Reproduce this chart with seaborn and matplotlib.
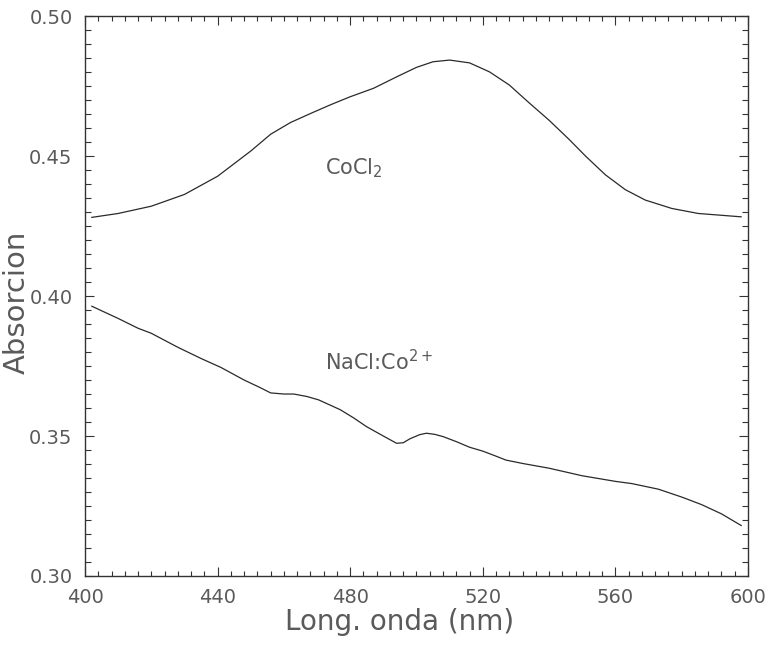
import numpy as np
import pandas as pd
import matplotlib
matplotlib.use("Agg")
import matplotlib.pyplot as plt
import seaborn as sns
from matplotlib.ticker import MultipleLocator

# ---- data ----
cocl2_wl = [402, 410, 420, 430, 440, 450, 456, 462, 468, 474, 480, 487, 494, 500, 505,
            510, 516, 522, 528, 534, 540, 546, 551, 557, 563, 569, 577, 585, 598]
cocl2_abs = [0.4281, 0.4295, 0.4321, 0.4363, 0.4428, 0.4518, 0.4578, 0.4620, 0.4652,
             0.4683, 0.4712, 0.4742, 0.4783, 0.4817, 0.4837, 0.4843, 0.4833, 0.4801,
             0.4754, 0.4690, 0.4628, 0.4560, 0.4500, 0.4433, 0.4380, 0.4343, 0.4313,
             0.4295, 0.4283]

nacl_wl = [402, 410, 416, 420, 428, 435, 441, 448, 453, 456, 460, 463, 467, 470.5, 477,
           481, 485, 490, 494, 496, 498, 501, 503, 505.5, 508, 512, 516, 520, 524, 527,
           532, 540, 550, 560, 565, 573, 580, 586, 592, 598]
nacl_abs = [0.3964, 0.3920, 0.3885, 0.3867, 0.3817, 0.3777, 0.3745, 0.3700, 0.3672,
            0.3654, 0.3650, 0.3650, 0.3641, 0.3629, 0.3594, 0.3565, 0.3533, 0.3500,
            0.3474, 0.3476, 0.3490, 0.3505, 0.3510, 0.3506, 0.3498, 0.3480, 0.3460,
            0.3446, 0.3428, 0.3414, 0.3402, 0.3385, 0.3358, 0.3338, 0.3330, 0.3310,
            0.3282, 0.3255, 0.3222, 0.3180]

x_ticks = [400, 440, 480, 520, 560, 600]
y_ticks = [0.30, 0.35, 0.40, 0.45, 0.50]
x_label = "Long. onda (nm)"
y_label = "Absorcion"
label_cocl2 = r"CoCl$_2$"
label_nacl = r"NaCl:Co$^{2+}$"

sns.set_theme(style="white")
plt.rcParams['font.family'] = ['DejaVu Sans']
plt.rcParams['mathtext.fontset'] = 'dejavusans'

fig = plt.figure(figsize=(7.7, 6.45), dpi=100)
ax = fig.add_axes([0.1104, 0.107, 0.861, 0.868])

df1 = pd.DataFrame({"wl": cocl2_wl, "abs": cocl2_abs})
df2 = pd.DataFrame({"wl": nacl_wl, "abs": nacl_abs})
line_col = "#2a2a2a"
sns.lineplot(data=df1, x="wl", y="abs", ax=ax, color=line_col, lw=0.9)
sns.lineplot(data=df2, x="wl", y="abs", ax=ax, color=line_col, lw=0.9)

ax.set_xlim(400, 600)
ax.set_ylim(0.30, 0.50)
ax.set_xticks(x_ticks)
ax.set_yticks(y_ticks)
ax.set_xticklabels([str(t) for t in x_ticks])
ax.set_yticklabels([f"{t:.2f}" for t in y_ticks])
ax.xaxis.set_minor_locator(MultipleLocator(4))
ax.yaxis.set_minor_locator(MultipleLocator(0.005))

text_col = "#5a5a5a"
ax.tick_params(which="both", direction="in", top=True, right=True,
               bottom=True, left=True, color="#333333", width=0.8)
ax.tick_params(which="major", length=6.5, labelsize=14, labelcolor=text_col, pad=9)
ax.tick_params(axis="x", which="minor", length=3.3)
ax.tick_params(axis="y", which="minor", length=4.5)

for sp in ax.spines.values():
    sp.set_visible(True)
    sp.set_color("#333333")
    sp.set_linewidth(1.0)

ax.set_xlabel("")
ax.set_ylabel("")
fig.text(400 / 770, 1 - 622 / 645, x_label, fontsize=20, color=text_col,
         ha="center", va="center")
fig.text(17 / 770, 1 - 302 / 645, y_label, fontsize=21, color=text_col,
         rotation=90, ha="center", va="center")

ax.text(472.5, 0.4455, label_cocl2, fontsize=15, color=text_col, va="center", ha="left")
ax.text(472.3, 0.3765, label_nacl, fontsize=15, color=text_col, va="center", ha="left")

fig.savefig("out.png", dpi=100, facecolor="white")
